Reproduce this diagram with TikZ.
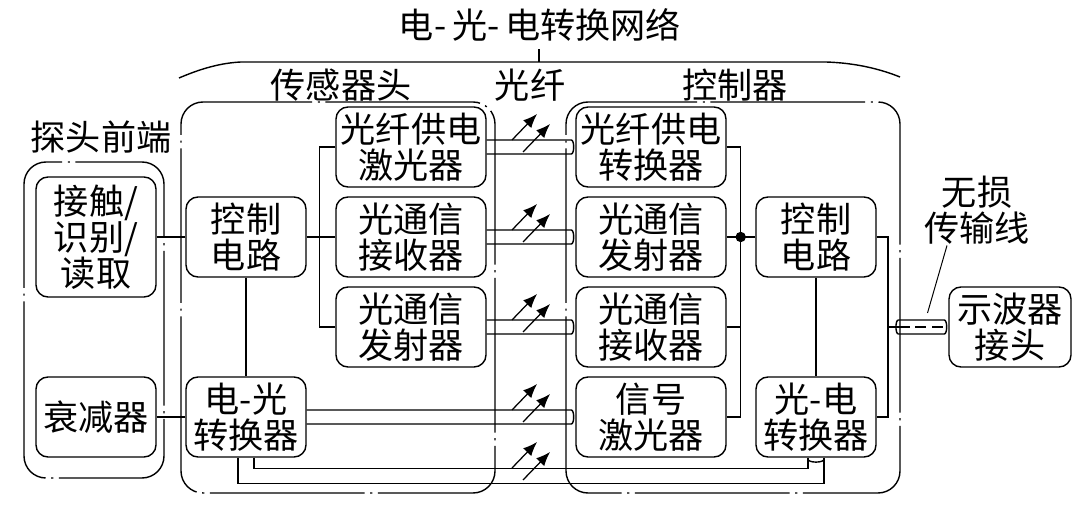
\documentclass[tikz,border=0pt]{standalone}
\usepackage{fontspec}
\setmainfont{Noto Sans CJK SC}
\usetikzlibrary{positioning}
\usetikzlibrary{arrows.meta}

\tikzset{
  blk/.style={draw,rounded corners=0.3cm,minimum height=2cm,align=center,inner sep=0pt},
  frm/.style={draw,rounded corners=0.55cm,dash pattern=on 110pt off 4pt on 1.5pt off 4pt},
  ray/.style={-{Latex[length=10pt,width=8pt]},line width=0.9pt},
}

\begin{document}
\begin{tikzpicture}[font=\fontsize{25}{25.5}\selectfont,line width=1pt]
\useasboundingbox (0,0) rectangle (27,12.675);

% title and bracket
\node (title) at (13.5,12.05) {电-\,光-\,电转换网络};
\draw (13.475,11.125) -- (13.475,11.45);
\draw (4.475,10.725) .. controls (5.0,10.95) and (5.5,11.1) .. (6.025,11.125) -- (20.65,11.125) .. controls (21.4,11.1) and (22.0,10.95) .. (22.5,10.75);

% frames
\draw[frm] (0.6,0.725) rectangle (4.1,8.625);
\draw[frm] (4.525,0.35) rectangle (12.375,10.125);
\draw[frm] (14.15,0.35) rectangle (22.5,10.125);
\node (lblprobe) at (2.525,9.25) {探头前端};
\node (lblsensor) at (8.525,10.55) {传感器头};
\node (lblfiber) at (13.25,10.55) {光纤};
\node (lblctrl) at (18.375,10.55) {控制器};

% blocks
\node[blk,minimum width=3cm,minimum height=3cm] (touch) at (2.4,6.75) {接触/\\识别/\\读取};
\node[blk,minimum width=3cm] (atten) at (2.4,2.25) {衰减器};
\node[blk,minimum width=3cm] (sctrl) at (6.15,6.75) {控制\\电路};
\node[blk,minimum width=3cm] (eo) at (6.15,2.25) {电-光\\转换器};
\node[blk,minimum width=3.75cm] (laser) at (10.275,9) {光纤供电\\激光器};
\node[blk,minimum width=3.75cm] (srx) at (10.275,6.75) {光通信\\接收器};
\node[blk,minimum width=3.75cm] (stx) at (10.275,4.5) {光通信\\发射器};
\node[blk,minimum width=3.75cm] (conv) at (16.275,9) {光纤供电\\转换器};
\node[blk,minimum width=3.75cm] (ctx) at (16.275,6.75) {光通信\\发射器};
\node[blk,minimum width=3.75cm] (crx) at (16.275,4.5) {光通信\\接收器};
\node[blk,minimum width=3.75cm] (slaser) at (16.275,2.25) {信号\\激光器};
\node[blk,minimum width=3cm] (cctrl) at (20.4,6.75) {控制\\电路};
\node[blk,minimum width=3cm] (oe) at (20.4,2.25) {光-电\\转换器};
\node[blk,minimum width=3.05cm] (scope) at (25.25,4.5) {示波器\\接头};
\node[align=center] (lbltl) at (24.425,7.425) {无损\\传输线};

% wiring, sensor side
\draw (touch.east) -- (sctrl.west);
\draw (atten.east) -- (eo.west);
\draw (sctrl.south) -- (eo.north);
\draw (sctrl.east) -- (srx.west);
\draw (laser.west) -- ++(-0.4,0) |- (stx.west);

% wiring, controller side
\draw (ctx.east) -- (cctrl.west);
\draw (conv.east) -- ++(0.35,0) |- (slaser.east);
\draw (crx.east) -- ++(0.35,0);
\fill ([xshift=0.35cm]ctx.east) circle (0.13);
\draw (cctrl.south) -- (oe.north);
\draw (cctrl.east) -- ++(0.28,0) coordinate (tap) |- (oe.east);

% coax to scope
\coordinate (cx) at ([xshift=-1.25cm]scope.west);
\draw (tap |- cx) -- (cx);
\draw ([yshift=0.175cm]cx) -- ([xshift=-0.1cm,yshift=0.175cm]scope.west) arc (90:-90:0.06cm and 0.175cm) -- ([yshift=-0.175cm]cx) arc (270:90:0.06cm and 0.175cm);
\draw[dash pattern=on 8pt off 4pt] (cx) -- ([xshift=-0.1cm]scope.west);
\draw[line width=0.7pt] ([xshift=-0.75cm,yshift=0.1cm]lbltl.south) -- ([xshift=0.73cm,yshift=0.35cm]cx);

% fibres
\foreach \a/\b in {laser/conv,srx/ctx,stx/crx,eo/slaser}{
  \draw ([yshift=0.175cm]\a.east) -- ([xshift=-0.1cm,yshift=0.175cm]\b.west) arc (90:-90:0.06cm and 0.175cm) -- ([yshift=-0.175cm]\a.east);
}
\draw ([xshift=0.2cm]eo.south) |- ([xshift=-0.2cm,yshift=-0.275cm]oe.south) -- ([xshift=-0.2cm]oe.south);
\draw ([xshift=-0.2cm]eo.south) |- ([xshift=0.2cm,yshift=-0.65cm]oe.south) -- ([xshift=0.2cm]oe.south);
\draw ([xshift=-0.2cm,yshift=-0.04cm]oe.south) arc (180:360:0.2cm and 0.07cm);

\foreach \y in {9.175,6.925,4.675,2.425,0.975}{
  \draw[ray] (12.8,\y) -- ++(0.625,0.65);
  \draw[ray] (13.075,\y-0.3) -- ++(0.675,0.7);
}

\end{tikzpicture}
\end{document}
